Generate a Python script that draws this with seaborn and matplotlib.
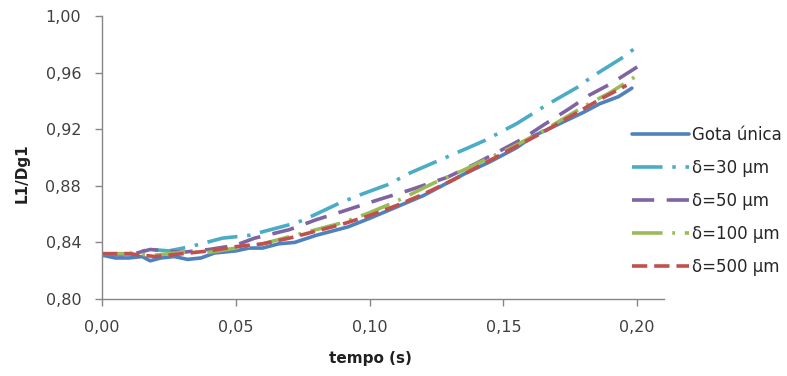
import matplotlib
matplotlib.use("Agg")
import matplotlib.pyplot as plt
import matplotlib.ticker as mticker
import seaborn as sns
import pandas as pd

# ---- data ----
t_gota = [0, 0.005, 0.01, 0.015, 0.018, 0.022, 0.027, 0.032, 0.037, 0.042, 0.05, 0.055, 0.06,
          0.066, 0.072, 0.08, 0.086, 0.092, 0.10, 0.11, 0.12, 0.13, 0.136, 0.145, 0.155, 0.161,
          0.17, 0.18, 0.186, 0.193, 0.198]
v_gota = [0.831, 0.829, 0.829, 0.830, 0.827, 0.829, 0.830, 0.828, 0.829, 0.8325, 0.834, 0.836,
          0.836, 0.839, 0.840, 0.845, 0.848, 0.851, 0.857, 0.865, 0.873, 0.883, 0.889, 0.897,
          0.907, 0.915, 0.923, 0.932, 0.938, 0.943, 0.949]

t_30 = [0, 0.01, 0.018, 0.025, 0.033, 0.045, 0.055, 0.065, 0.073, 0.08, 0.089, 0.097, 0.107,
        0.115, 0.126, 0.137, 0.143, 0.155, 0.166, 0.178, 0.183, 0.194, 0.199]
v_30 = [0.832, 0.832, 0.835, 0.834, 0.837, 0.843, 0.845, 0.850, 0.854, 0.860, 0.868, 0.874,
        0.881, 0.889, 0.898, 0.907, 0.912, 0.924, 0.937, 0.950, 0.957, 0.970, 0.977]

t_50 = [0, 0.01, 0.018, 0.03, 0.04, 0.05, 0.057, 0.07, 0.08, 0.09, 0.103, 0.115, 0.129, 0.14,
        0.148, 0.157, 0.165, 0.175, 0.182, 0.19, 0.2]
v_50 = [0.832, 0.831, 0.835, 0.833, 0.835, 0.838, 0.843, 0.849, 0.856, 0.862, 0.870, 0.877,
        0.886, 0.896, 0.904, 0.913, 0.923, 0.935, 0.944, 0.952, 0.964]

t_100 = [0, 0.01, 0.02, 0.03, 0.04, 0.05, 0.06, 0.07, 0.08, 0.09, 0.1, 0.11, 0.124, 0.135,
         0.145, 0.153, 0.165, 0.18, 0.19, 0.2]
v_100 = [0.832, 0.832, 0.831, 0.833, 0.833, 0.836, 0.839, 0.844, 0.849, 0.854, 0.861, 0.869,
         0.882, 0.891, 0.900, 0.907, 0.919, 0.936, 0.946, 0.958]

t_500 = [0, 0.01, 0.02, 0.03, 0.04, 0.05, 0.06, 0.07, 0.08, 0.09, 0.1, 0.11, 0.12, 0.13,
         0.141, 0.152, 0.164, 0.175, 0.186, 0.196]
v_500 = [0.832, 0.832, 0.830, 0.832, 0.834, 0.837, 0.839, 0.843, 0.848, 0.853, 0.859, 0.866,
         0.874, 0.883, 0.894, 0.905, 0.917, 0.929, 0.941, 0.951]

labels = ["Gota única", "δ=30 µm", "δ=50 µm", "δ=100 µm", "δ=500 µm"]
x_ticks = [0.00, 0.05, 0.10, 0.15, 0.20]
y_ticks = [0.80, 0.84, 0.88, 0.92, 0.96, 1.00]

# ---- style ----
sns.set_style("white")
plt.rcParams["font.family"] = ["DejaVu Sans"]
plt.rcParams["lines.scale_dashes"] = False

colors = ["#4F81BD", "#4BACC6", "#8064A2", "#9BBB59", "#C0504D"]
styles = ["-", (0, (22, 7, 2.5, 7)), (0, (16, 9)), (0, (22, 7, 2, 7)), (0, (11, 5))]

fig = plt.figure(figsize=(7.87, 3.76), dpi=100)
ax = fig.add_axes([102 / 787, 1 - 299 / 376, (664 - 102) / 787, (299 - 16) / 376])

series = [(t_gota, v_gota), (t_30, v_30), (t_50, v_50), (t_100, v_100), (t_500, v_500)]
for (t, v), lab, c, ls in zip(series, labels, colors, styles):
    df = pd.DataFrame({"t": t, "v": v})
    sns.lineplot(data=df, x="t", y="v", ax=ax, color=c, linestyle=ls, linewidth=2.6,
                 label=lab, legend=False)

ax.set_xlim(0, 0.21)
ax.set_ylim(0.80, 1.00)
ax.set_xticks(x_ticks)
ax.set_yticks(y_ticks)
ax.xaxis.set_major_formatter(mticker.FuncFormatter(lambda x, p: f"{x:.2f}".replace(".", ",")))
ax.yaxis.set_major_formatter(mticker.FuncFormatter(lambda x, p: f"{x:.2f}".replace(".", ",")))

for s in ["top", "right"]:
    ax.spines[s].set_visible(False)
for s in ["left", "bottom"]:
    ax.spines[s].set_color("#868686")
    ax.spines[s].set_linewidth(1.0)
ax.tick_params(axis="both", direction="out", length=5, width=1, color="#868686",
               labelsize=11.5, labelcolor="#404040", left=True, bottom=True)
ax.tick_params(axis="x", pad=10)
ax.tick_params(axis="y", pad=10)

ax.set_xlabel("tempo (s)", fontsize=11, fontweight="bold", color="#202020")
ax.set_ylabel("L1/Dg1", fontsize=11, fontweight="bold", color="#202020")
ax.xaxis.set_label_coords((370 - 102) / (664 - 102), -0.185)
ax.yaxis.set_label_coords(-0.128, 0.445)

handles, labs = ax.get_legend_handles_labels()
fig.legend(handles, labs, loc="upper left", bbox_to_anchor=(632 / 787, 1 - 126 / 376),
           frameon=False, fontsize=12, handlelength=3.4, handletextpad=0.2,
           labelspacing=0.9, borderaxespad=0, borderpad=0)

fig.savefig("out.png", dpi=100)
